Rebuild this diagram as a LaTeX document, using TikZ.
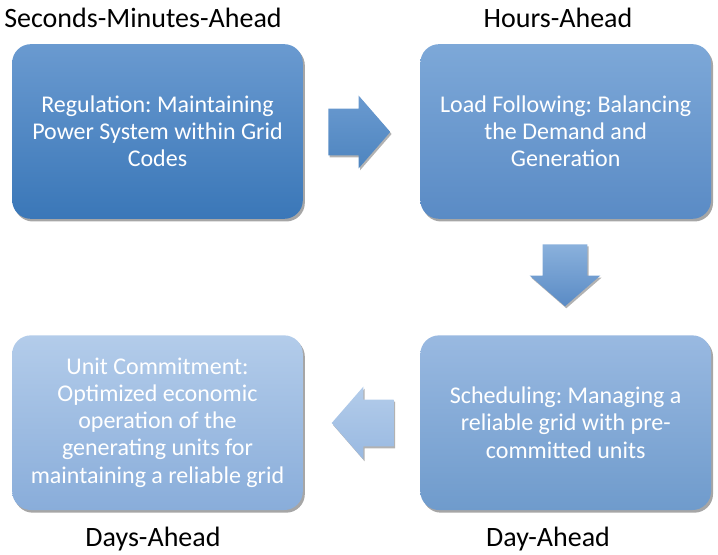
\documentclass[tikz,border=0pt]{standalone}
\usepackage{fontspec}
\setmainfont{Carlito}
\frenchspacing
\usetikzlibrary{positioning,shapes.arrows,shadows}

\definecolor{boxAtop}{HTML}{6A9AD0}
\definecolor{boxAbot}{HTML}{3A77B8}
\definecolor{boxBtop}{HTML}{7DA8D8}
\definecolor{boxBbot}{HTML}{5A8BC5}
\definecolor{boxCtop}{HTML}{99B9E1}
\definecolor{boxCbot}{HTML}{6F9BCC}
\definecolor{boxDtop}{HTML}{B3CCEA}
\definecolor{boxDbot}{HTML}{89ADDA}

\tikzstyle{stage}=[rounded corners=14pt,minimum width=218pt,minimum height=131pt,
  align=center,text=white,font=\fontsize{18}{20.3}\selectfont,shading=axis,
  drop shadow={shadow xshift=1.5pt,shadow yshift=-2pt,fill=black,opacity=0.35}]
\tikzstyle{horizon}=[font=\fontsize{21}{24}\selectfont,inner sep=0pt]
\tikzstyle{blockarrow}=[single arrow,minimum height=46.5pt,inner xsep=0pt,inner ysep=17.25pt,
  single arrow head extend=9.75pt,single arrow tip angle=98,shading=axis,anchor=tail,
  drop shadow={shadow xshift=1pt,shadow yshift=-1.5pt,fill=black,opacity=0.3}]

\begin{document}
\begin{tikzpicture}[x=0.75pt,y=-0.75pt]
\useasboundingbox (0,0) rectangle (718,555);

% the four stages
\node[stage,top color=boxAtop,bottom color=boxAbot] (reg) at (157.5,131.5)
  {Regulation: Maintaining\\Power System within Grid\\Codes};
\node[stage,top color=boxBtop,bottom color=boxBbot,right=87.75pt of reg] (load)
  {Load Following: Balancing\\the Demand and\\Generation};
\node[stage,top color=boxCtop,bottom color=boxCbot,below=87pt of load] (sched)
  {Scheduling: Managing a\\reliable grid with pre-\\committed units};
\node[stage,top color=boxDtop,bottom color=boxDbot,left=87.75pt of sched] (uc)
  {Unit Commitment:\\Optimized economic\\operation of the\\generating units for\\maintaining a reliable grid};

% time horizons
\node[horizon] (secs) at (143,18) {Seconds-Minutes-Ahead};
\node[horizon] (hours) at (558,18) {Hours-Ahead};
\node[horizon] (days) at (153,539) {Days-Ahead};
\node[horizon] (day) at (548,539) {Day-Ahead};

% block arrows
\node[blockarrow,top color=boxAtop,bottom color=boxAbot!90] (a1) at (328,132) {};
\node[blockarrow,shape border rotate=270,inner xsep=16.5pt,inner ysep=0pt,
  top color=boxBtop!90,bottom color=boxBbot] (a2) at (565,244) {};
\node[blockarrow,shape border rotate=180,top color=boxDtop,bottom color=boxCtop] (a3) at (394,423) {};
\end{tikzpicture}
\end{document}
